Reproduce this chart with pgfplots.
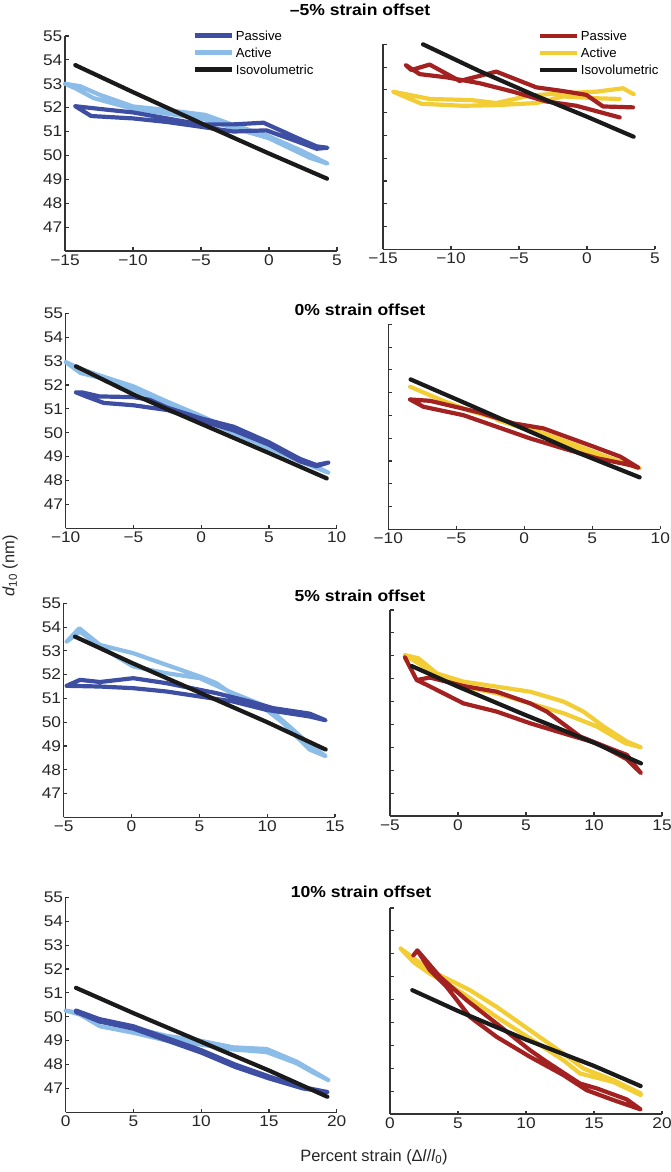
\documentclass[border=0pt]{standalone}
\usepackage{fontspec}
\setmainfont{Liberation Sans}
\newfontfamily\tickfont{Liberation Sans}[FakeStretch=1.12]
\newfontfamily\titlefont{Liberation Sans}[FakeStretch=1.1]
\usepackage{pgfplots}
\pgfplotsset{compat=1.18}
\definecolor{pasB}{HTML}{3D4EA3}
\definecolor{actB}{HTML}{8CBDE8}
\definecolor{pasR}{HTML}{A42121}
\definecolor{actY}{HTML}{F2CD35}
\definecolor{iso}{HTML}{1A1A1A}
\definecolor{axc}{HTML}{333333}
\pgfplotsset{
 panel/.style={
  scale only axis, clip=false,
  axis lines=left,
  axis line style={line width=1.1bp, color=axc, -},
  x axis line style={-}, y axis line style={-},
  every tick/.style={line width=1.1bp, color=axc},
  major tick length=3.5bp, tick align=inside,
  ymin=46, ymax=55, ytick={47,48,...,55},
  tick label style={font=\tickfont\fontsize{15.5}{17}\selectfont, text=black!85},
  yticklabel style={inner sep=2.5bp},
  /pgf/number format/assume math mode=true,
  width=272bp, height=215bp, anchor=south west,
  legend style={draw=none, fill=none, anchor=north west,
    font=\fontsize{13.2}{15}\selectfont, row sep=4.5bp, inner sep=0pt,
    nodes={inner sep=1.5bp, text height=9.5bp, text depth=0bp}},
  legend cell align=left,
  legend image code/.code={\draw[#1, line width=4.2bp, line cap=butt] (0bp,0bp) -- (37bp,0bp);},
 },
 rightpanel/.style={panel, height=205bp, yticklabels={}},
 ln/.style={line width=4.2bp, line join=round, line cap=round, forget plot},
}
\begin{document}
\begin{tikzpicture}
\path[use as bounding box] (0,0) rectangle (671bp,1172bp);

% ---------- Row 1: -5% ----------
\begin{axis}[panel, at={(65bp,921bp)}, xmin=-15, xmax=5,
  xtick={-15,-10,-5,0,5}, xticklabels={−15,−10,−5,0,5},
  legend style={at={(0.4706,1.0326)}}]
\addlegendimage{pasB}\addlegendimage{actB}\addlegendimage{iso}
\addplot[ln, actB] coordinates {(-15,53.0) (-13.9,52.9) (-12.5,52.55) (-10,52.05) (-7.5,51.9) (-4.7,51.7) (-2.6,51.27) (-0.2,50.85) (2.3,50.22) (4.3,49.66) (3,49.9) (0,50.72) (-2.6,51.15) (-5,51.55) (-7.5,51.75) (-10,51.95) (-12.9,52.4) (-14.2,52.8) (-15,53.0)};
\addplot[ln, pasB] coordinates {(-14.24,52.06) (-13.08,51.65) (-10,51.55) (-7.5,51.4) (-5,51.2) (-2.6,51.0) (-0.2,51.05) (2,50.6) (3.5,50.28) (4.3,50.32) (3.5,50.38) (2,50.75) (-0.4,51.37) (-2.6,51.3) (-5,51.3) (-7.5,51.55) (-10,51.8) (-12.5,51.95) (-14.24,52.06)};
\addplot[ln, iso] coordinates {(-14.24,53.78) (-10,52.65) (-5,51.35) (0,50.08) (4.26,49.03)};
\legend{Passive,Active,Isovolumetric}
\end{axis}

\begin{axis}[rightpanel, at={(383bp,922.7bp)}, xmin=-15, xmax=5,
  xtick={-15,-10,-5,0,5}, xticklabels={−15,−10,−5,0,5},
  legend style={at={(0.5699,1.073)}}]
\addlegendimage{pasR}\addlegendimage{actY}\addlegendimage{iso}
\addplot[ln, actY] coordinates {(2.4,52.6) (0.69,52.63) (-1.76,52.71) (-3.73,52.42) (-6.67,52.33) (-9.12,52.3) (-12.18,52.39) (-14.26,52.92) (-11.57,52.6) (-8.5,52.55) (-6.67,52.42) (-4.22,52.75) (-1.76,52.85) (0.69,52.92) (2.65,53.07) (3.43,52.81)};
\addplot[ln, pasR] coordinates {(2.4,51.79) (-0.78,52.3) (-2.99,52.49) (-5.44,52.92) (-7.89,53.29) (-10.34,53.55) (-12.3,53.69) (-13.33,54.09) (-12.92,53.87) (-11.57,54.11) (-9.36,53.39) (-6.67,53.8) (-3.73,53.11) (-1.8,52.95) (-0.05,52.78) (1.18,52.27) (2.4,52.25) (3.38,52.23)};
\addplot[ln, iso] coordinates {(-12.06,55.0) (-8,53.85) (-4,52.8) (0,51.82) (3.43,50.94)};
\legend{Passive,Active,Isovolumetric}
\end{axis}

% ---------- Row 2: 0% ----------
\begin{axis}[panel, at={(65.7bp,643.7bp)}, width=271bp, xmin=-10, xmax=10,
  xtick={-10,-5,0,5,10}, xticklabels={−10,−5,0,5,10}]
\addplot[ln, actB] coordinates {(-10,52.96) (-9,52.7) (-7.5,52.4) (-5,51.94) (-2.5,51.3) (0,50.7) (2.5,50.05) (5,49.45) (7.5,48.85) (9.38,48.33) (7.5,48.75) (5,49.35) (2.5,49.95) (0,50.6) (-2.5,51.2) (-5,51.8) (-7.5,52.3) (-8.9,52.5) (-10,52.96)};
\addplot[ln, pasB] coordinates {(-9.24,51.69) (-8.8,51.69) (-7.5,51.52) (-5,51.49) (-3.8,51.38) (-2.5,51.05) (0,50.6) (2.4,50.25) (5,49.6) (7.3,48.9) (8.5,48.65) (9.38,48.75) (8.5,48.6) (7.3,48.8) (5,49.5) (2.4,50.1) (0,50.5) (-2.5,50.95) (-5,51.15) (-7.2,51.25) (-8.4,51.5) (-9.24,51.69)};
\addplot[ln, iso] coordinates {(-9.24,52.78) (-5,51.6) (0,50.37) (5,49.15) (9.26,48.09)};
\end{axis}

\begin{axis}[rightpanel, at={(388.3bp,642.7bp)}, xmin=-10, xmax=10,
  xtick={-10,-5,0,5,10}, xticklabels={−10,−5,0,5,10}]
\addplot[ln, actY] coordinates {(-8.4,52.26) (-6,51.65) (-4,51.2) (-2,50.85) (0,50.5) (2,50.1) (4,49.65) (6,49.2) (8.48,48.68) (6,49.12) (4,49.55) (2,50.0) (0,50.42) (-2,50.8)};
\addplot[ln, pasR] coordinates {(-8.4,51.7) (-6.93,51.64) (-3.25,51.12) (-0.8,50.65) (1.41,50.43) (5.09,49.63) (7.06,49.19) (8.4,48.7) (7.8,48.82) (5.34,49.12) (2.88,49.55) (0.43,49.99) (-2.02,50.5) (-4.48,51.01) (-7.42,51.38) (-8.4,51.7)};
\addplot[ln, iso] coordinates {(-8.36,52.58) (-4,51.45) (0,50.4) (4,49.35) (8.48,48.28)};
\end{axis}

% ---------- Row 3: 5% ----------
\begin{axis}[panel, at={(63.7bp,354.7bp)}, width=271.3bp, height=214bp, xmin=-5, xmax=15,
  xtick={-5,0,5,10,15}, xticklabels={−5,0,5,10,15}]
\addplot[ln, actB] coordinates {(-4.78,53.39) (-3.85,53.95) (-2.33,53.25) (0.13,52.9) (2.58,52.41) (5.04,51.92) (6.26,51.64) (7.49,51.15) (9.94,50.52) (11.17,49.97) (13.13,48.85) (14.31,48.57) (13.13,49.06) (11.9,49.69) (9.94,50.66) (7.49,51.22) (5.04,51.85) (2.58,52.06) (0.13,52.34) (-2.33,53.18) (-3.8,53.81) (-4.78,53.39)};
\addplot[ln, pasB] coordinates {(-4.78,51.53) (-3.8,51.78) (-2.33,51.69) (0.13,51.85) (2.58,51.64) (5.04,51.36) (6.26,51.22) (8.72,50.87) (10.44,50.59) (13.13,50.36) (14.31,50.08) (13.13,50.24) (9.94,50.52) (7.49,50.87) (5.04,51.08) (2.58,51.29) (0.13,51.43) (-2.33,51.5) (-4.78,51.53)};
\addplot[ln, iso] coordinates {(-4.17,53.6) (0,52.5) (5,51.25) (10,50.0) (14.31,48.85)};
\end{axis}

\begin{axis}[rightpanel, at={(390bp,356bp)}, height=206bp, xmin=-5, xmax=15,
  xtick={-5,0,5,10,15}, xticklabels={−5,0,5,10,15}]
\addplot[ln, actY] coordinates {(-3.9,53.03) (-2.91,52.89) (-1.56,52.23) (0.4,51.87) (2.85,51.65) (5.31,51.43) (7.76,51.0) (9.23,50.56) (10.7,49.91) (12.42,49.25) (13.45,49.0) (12.3,49.18) (10.21,49.91) (7.76,50.49) (5.31,50.92) (2.85,51.36) (0.4,51.65) (-1.56,52.16) (-2.91,52.67) (-3.9,53.03)};
\addplot[ln, pasR] coordinates {(-3.9,52.93) (-3.04,51.94) (-2.06,52.05) (0.4,51.68) (2.85,51.43) (5.31,50.92) (6.53,50.56) (8.99,49.47) (11.44,48.89) (12.42,48.67) (13.45,47.87) (12.42,48.48) (10.21,49.18) (7.76,49.61) (5.31,50.05) (2.85,50.56) (0.4,50.92) (-2.3,51.73) (-3.04,51.94)};
\addplot[ln, iso] coordinates {(-3.4,52.55) (0,51.65) (5,50.4) (10,49.2) (13.45,48.3)};
\end{axis}

% ---------- Row 4: 10% ----------
\begin{axis}[panel, at={(65.7bp,59.7bp)}, width=271bp, xmin=0, xmax=20,
  xtick={0,5,10,15,20}, xticklabels={0,5,10,15,20}]
\addplot[ln, actB] coordinates {(0,50.26) (1.06,50.09) (2.53,49.6) (4.99,49.33) (7.45,49.0) (9.91,48.84) (12.37,48.63) (14.83,48.52) (16.31,48.21) (17.05,48.05) (18.28,47.66) (19.38,47.35) (17.05,48.12) (14.83,48.65) (12.37,48.72) (9.91,49.0) (7.45,49.2) (4.99,49.54) (2.53,49.82) (1.06,50.15) (0,50.26)};
\addplot[ln, pasB] coordinates {(0.76,50.26) (2.5,49.9) (5,49.6) (7.5,49.1) (10,48.6) (12.5,48.0) (15,47.5) (17.5,47.05) (19.31,46.85) (17.5,47.0) (15,47.42) (12.5,47.9) (10,48.5) (7.5,49.0) (5,49.5) (2.5,49.8) (0.76,50.2)};
\addplot[ln, iso] coordinates {(0.76,51.21) (5,50.15) (10,48.95) (15,47.75) (19.31,46.65)};
\end{axis}

\begin{axis}[rightpanel, at={(390bp,58bp)}, height=206bp, xmin=0, xmax=20,
  xtick={0,5,10,15,20}, xticklabels={0,5,10,15,20}]
\addplot[ln, actY] coordinates {(0.78,53.23) (2.94,52.28) (5.88,51.41) (7.84,50.68) (10.29,49.66) (12.75,48.64) (14.22,47.99) (16.42,47.48) (18.43,46.9) (18.43,46.83) (16.42,47.4) (13.97,47.77) (12.75,48.35) (10.29,49.3) (7.84,50.24) (5.39,51.26) (2.94,52.13) (1.72,52.64) (0.78,53.23)};
\addplot[ln, pasR] coordinates {(1.72,52.93) (2.01,53.15) (2.94,52.28) (4.17,51.55) (5.88,50.24) (7.84,49.37) (10.29,48.5) (12.75,47.7) (14.46,47.04) (16.42,46.61) (18.43,46.2) (17.4,46.64) (15.2,47.12) (13.97,47.33) (11.52,48.28) (10.29,48.79) (7.84,49.95) (5.64,50.97) (3.68,51.99) (2.01,53.15)};
\addplot[ln, iso] coordinates {(1.64,51.41) (5,50.5) (10,49.25) (15,48.1) (18.43,47.22)};
\end{axis}

% ---------- titles and labels ----------
\node[font=\titlefont\bfseries\fontsize{16}{18}\selectfont] at (360bp,1162bp) {–5\% strain offset};
\node[font=\titlefont\bfseries\fontsize{16}{18}\selectfont] at (360bp,862bp) {0\% strain offset};
\node[font=\titlefont\bfseries\fontsize{16}{18}\selectfont] at (360bp,576bp) {5\% strain offset};
\node[font=\titlefont\bfseries\fontsize{16}{18}\selectfont] at (361bp,280bp) {10\% strain offset};
\node[rotate=90, font=\fontsize{16.5}{18}\selectfont, text=black!85] at (10bp,606bp) {\textit{d}\textsubscript{10} (nm)};
\node[font=\fontsize{16.5}{18}\selectfont, text=black!85] at (374bp,15bp) {Percent strain (Δ\textit{l}/\textit{l}\textsubscript{0})};
\end{tikzpicture}
\end{document}
